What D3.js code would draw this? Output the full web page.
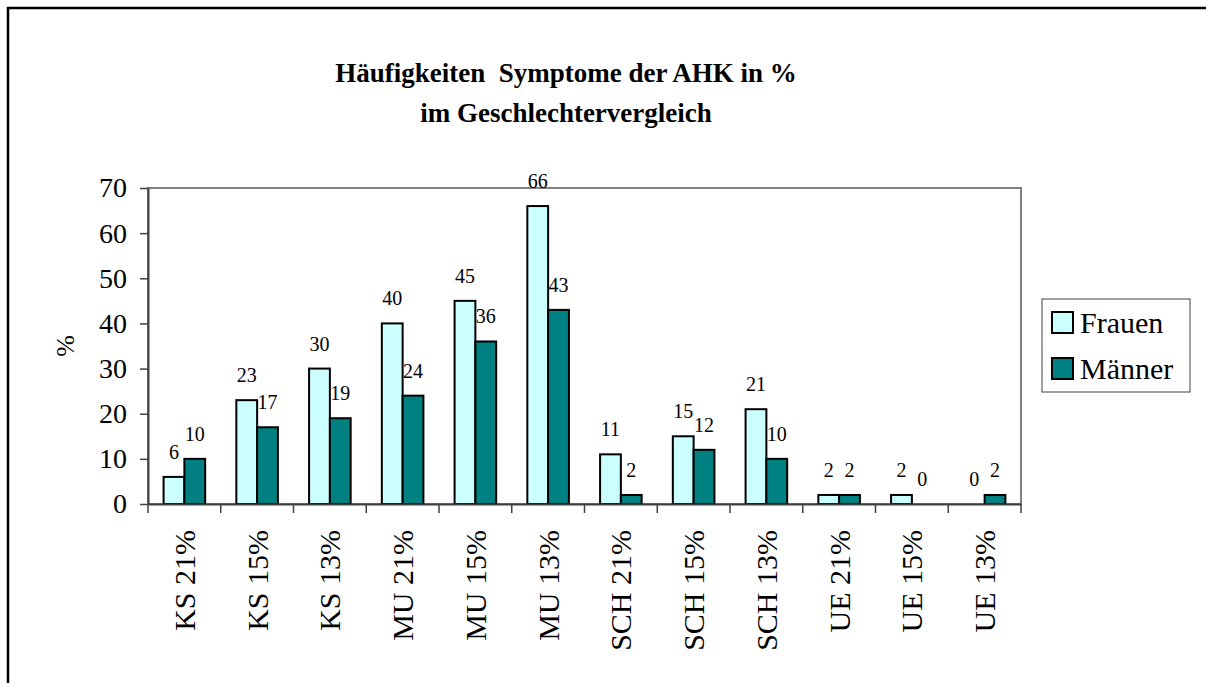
<!DOCTYPE html>
<html>
<head>
<meta charset="utf-8">
<script src="https://d3js.org/d3.v7.min.js"></script>
<style>
  body { margin: 0; background: #fff; }
  svg { display: block; }
</style>
</head>
<body>
<div id="chart"></div>
<script>
const categories = ["KS 21%", "KS 15%", "KS 13%", "MU 21%", "MU 15%", "MU 13%",
                    "SCH 21%", "SCH 15%", "SCH 13%", "UE 21%", "UE 15%", "UE 13%"];
const seriesNames = ["Frauen", "Männer"];
const frauen = [6, 23, 30, 40, 45, 66, 11, 15, 21, 2, 2, 0];
const maenner = [10, 17, 19, 24, 36, 43, 2, 12, 10, 2, 0, 2];
const yTicks = [0, 10, 20, 30, 40, 50, 60, 70];
const colors = ["#ccffff", "#008080"];

const W = 1206, H = 683;
const plot = {left: 148, right: 1021, top: 188, bottom: 504};
const font = "'Liberation Serif', 'Times New Roman', serif";

const svg = d3.select("#chart").append("svg")
    .attr("width", W)
    .attr("height", H)
    .style("font-family", font);

// outer frame (right and bottom run off the picture)
svg.append("rect")
    .attr("x", 8).attr("y", 8)
    .attr("width", 1220).attr("height", 700)
    .attr("fill", "none")
    .attr("stroke", "#000")
    .attr("stroke-width", 2.5);

// title
const title = svg.append("text")
    .attr("text-anchor", "middle")
    .style("font-weight", "bold")
    .style("font-size", "27px")
    .style("white-space", "pre");
title.append("tspan").attr("x", 566).attr("y", 82).text("Häufigkeiten  Symptome der AHK in %");
title.append("tspan").attr("x", 566).attr("y", 122).text("im Geschlechtervergleich");

const x0 = d3.scaleBand()
    .domain(categories)
    .range([plot.left, plot.right]);

const x1 = d3.scaleBand()
    .domain(seriesNames)
    .range([0, x0.bandwidth()])
    .paddingOuter(0.75);

const y = d3.scaleLinear()
    .domain([0, 70])
    .range([plot.bottom, plot.top]);

// plot border (grey top/right)
svg.append("rect")
    .attr("x", plot.left).attr("y", plot.top)
    .attr("width", plot.right - plot.left)
    .attr("height", plot.bottom - plot.top)
    .attr("fill", "none")
    .attr("stroke", "#808080")
    .attr("stroke-width", 2);

const rows = categories.map((c, i) => ({cat: c, values: [frauen[i], maenner[i]]}));

const groups = svg.append("g").selectAll("g")
    .data(rows)
    .join("g")
    .attr("transform", d => `translate(${x0(d.cat)},0)`);

groups.selectAll("rect")
    .data(d => d.values.map((v, j) => ({name: seriesNames[j], value: v, j: j})))
    .join("rect")
    .filter(d => d.value > 0)
    .attr("x", d => x1(d.name))
    .attr("y", d => y(d.value))
    .attr("width", x1.bandwidth())
    .attr("height", d => y(0) - y(d.value))
    .attr("fill", d => colors[d.j])
    .attr("stroke", "#000")
    .attr("stroke-width", 2);

groups.selectAll("text")
    .data(d => d.values.map((v, j) => ({name: seriesNames[j], value: v})))
    .join("text")
    .attr("x", d => x1(d.name) + x1.bandwidth() / 2)
    .attr("y", d => y(d.value) - 18)
    .attr("text-anchor", "middle")
    .style("font-size", "20px")
    .text(d => d.value);

// y axis
const yAxis = svg.append("g")
    .attr("transform", `translate(${plot.left},0)`)
    .call(d3.axisLeft(y).tickValues(yTicks).tickSize(8).tickSizeOuter(0).tickPadding(13));
yAxis.select(".domain").attr("stroke", "#404040").attr("stroke-width", 2);
yAxis.selectAll(".tick line").attr("stroke", "#404040").attr("stroke-width", 1.5);
yAxis.selectAll("text").style("font-size", "28px").style("font-family", font).attr("fill", "#000");

// y axis title
svg.append("text")
    .attr("transform", "translate(65,346) rotate(-90)")
    .attr("text-anchor", "middle")
    .attr("dy", "0.35em")
    .style("font-size", "26px")
    .text("%");

// x axis
const xAxis = svg.append("g")
    .attr("transform", `translate(0,${plot.bottom})`)
    .call(d3.axisBottom(x0).tickSize(0).tickSizeOuter(0));
xAxis.select(".domain").attr("stroke", "#404040").attr("stroke-width", 2);
xAxis.selectAll("text")
    .attr("transform", "rotate(-90)")
    .attr("x", -26)
    .attr("y", 0)
    .attr("dy", "0.35em")
    .style("text-anchor", "end")
    .style("font-size", "30px")
    .style("font-family", font)
    .attr("fill", "#000");

// tick marks between categories
xAxis.selectAll(".sep")
    .data(categories.map(c => x0(c)).concat([plot.right]))
    .join("line")
    .attr("class", "sep")
    .attr("x1", d => d).attr("x2", d => d)
    .attr("y1", 0).attr("y2", 9)
    .attr("stroke", "#404040")
    .attr("stroke-width", 1.5);

// legend
const legend = svg.append("g").attr("transform", "translate(1042,299)");
legend.append("rect")
    .attr("width", 148).attr("height", 93)
    .attr("fill", "#fff")
    .attr("stroke", "#404040")
    .attr("stroke-width", 1);

const items = legend.selectAll("g.item")
    .data(seriesNames)
    .join("g")
    .attr("class", "item")
    .attr("transform", (d, i) => `translate(10,${13 + i * 46})`);
items.append("rect")
    .attr("width", 21).attr("height", 21)
    .attr("fill", (d, i) => colors[i])
    .attr("stroke", "#000")
    .attr("stroke-width", 2);
items.append("text")
    .attr("x", 28).attr("y", 21)
    .style("font-size", "30px")
    .text(d => d);
</script>
</body>
</html>
